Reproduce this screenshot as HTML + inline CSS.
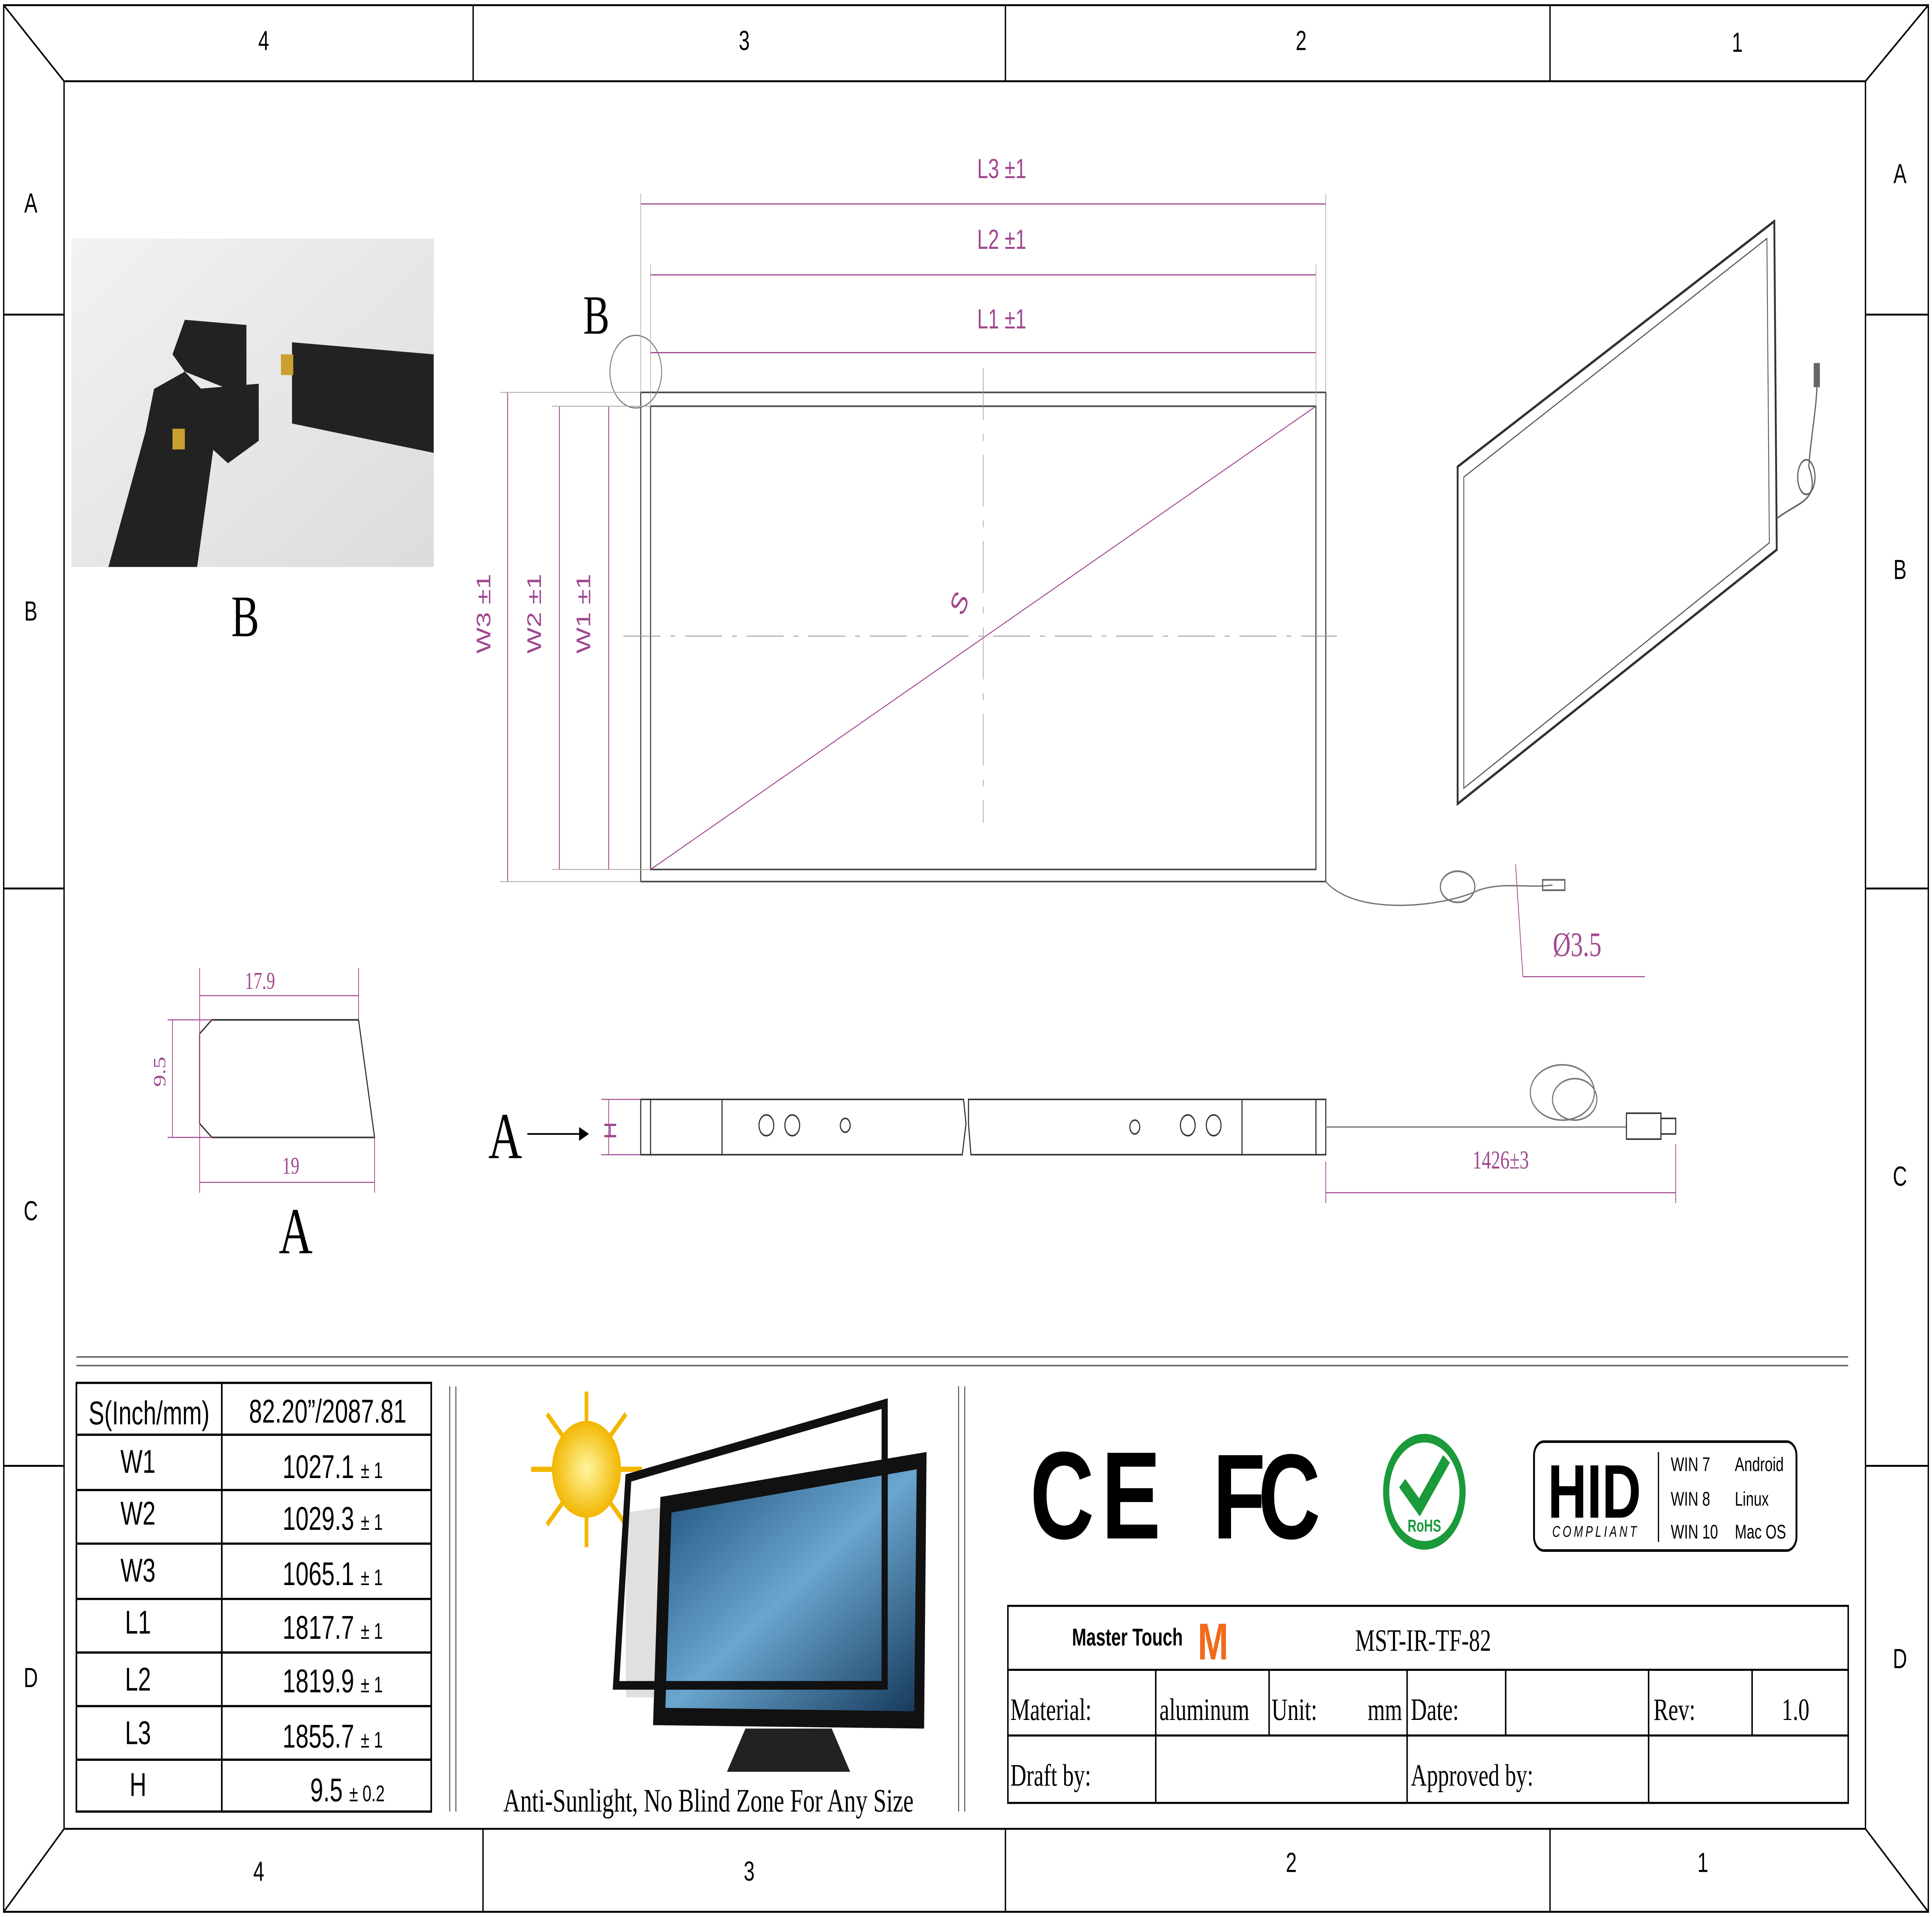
<!DOCTYPE html>
<html><head><meta charset="utf-8"><style>
html,body{margin:0;padding:0;background:#fff;width:100%;height:100%;overflow:hidden}
svg{display:block;width:100vw;height:100vh}
</style></head><body>
<svg xmlns="http://www.w3.org/2000/svg" viewBox="0 0 1568 1109" preserveAspectRatio="none" font-family="Liberation Sans, sans-serif">
<defs>
<linearGradient id="bg" x1="0" y1="0" x2="1" y2="1"><stop offset="0" stop-color="#f2f2f2"/><stop offset="1" stop-color="#dcdcdc"/></linearGradient>
<linearGradient id="scr" x1="0" y1="0" x2="1" y2="1"><stop offset="0" stop-color="#1d4f7a"/><stop offset="0.5" stop-color="#6aa6cf"/><stop offset="1" stop-color="#163a5c"/></linearGradient>
<radialGradient id="sun"><stop offset="0" stop-color="#fff7a0"/><stop offset="1" stop-color="#f2b600"/></radialGradient>
</defs>
<rect width="1568" height="1109" fill="#fff"/>
<g stroke="#000" stroke-width="1.1" fill="none">
<rect x="3" y="3" width="1562" height="1103"/>
<rect x="52" y="47" width="1462" height="1011"/>
<line x1="3" y1="3" x2="52" y2="47"/><line x1="1565" y1="3" x2="1514" y2="47"/>
<line x1="3" y1="1106" x2="52" y2="1058"/><line x1="1565" y1="1106" x2="1514" y2="1058"/>
<line x1="384" y1="3" x2="384" y2="47"/><line x1="816" y1="3" x2="816" y2="47"/><line x1="1258" y1="3" x2="1258" y2="47"/>
<line x1="392" y1="1058" x2="392" y2="1106"/><line x1="816" y1="1058" x2="816" y2="1106"/><line x1="1258" y1="1058" x2="1258" y2="1106"/>
<line x1="3" y1="182" x2="52" y2="182"/><line x1="3" y1="514" x2="52" y2="514"/><line x1="3" y1="848" x2="52" y2="848"/>
<line x1="1514" y1="182" x2="1565" y2="182"/><line x1="1514" y1="514" x2="1565" y2="514"/><line x1="1514" y1="848" x2="1565" y2="848"/>
</g>
<g font-size="16" text-anchor="middle">
<text x="214" y="29">4</text><text x="604" y="29">3</text><text x="1056" y="29">2</text><text x="1410" y="30">1</text>
<text x="210" y="1088">4</text><text x="608" y="1088">3</text><text x="1048" y="1083">2</text><text x="1382" y="1083">1</text>
<text x="25" y="123">A</text><text x="25" y="359">B</text><text x="25" y="706">C</text><text x="25" y="976">D</text>
<text x="1542" y="106">A</text><text x="1542" y="335">B</text><text x="1542" y="686">C</text><text x="1542" y="965">D</text>
</g>
<g stroke="#555" stroke-width="0.8"><line x1="62" y1="785" x2="1500" y2="785"/><line x1="62" y1="790" x2="1500" y2="790"/>
<line x1="365" y1="802" x2="365" y2="1048"/><line x1="370" y1="802" x2="370" y2="1048"/>
<line x1="778" y1="802" x2="778" y2="1048"/><line x1="783" y1="802" x2="783" y2="1048"/></g>
<rect x="58" y="138" width="294" height="190" fill="url(#bg)"/>
<g fill="#222"><polygon points="150,185 200,188 200,225 185,225 150,215 140,205"/><polygon points="237,198 352,205 352,262 237,245"/>
<polygon points="125,225 150,215 170,230 175,250 160,328 88,328 118,250"/><polygon points="160,225 210,222 210,255 185,268 165,255"/></g>
<rect x="228" y="205" width="10" height="12" fill="#c9a030"/><rect x="140" y="248" width="10" height="12" fill="#c9a030"/>
<text x="199" y="368" font-family="Liberation Serif, serif" font-size="34" text-anchor="middle">B</text>
<g stroke="#444" stroke-width="0.9" fill="none">
<rect x="520" y="227" width="556" height="283"/><rect x="528" y="235" width="540" height="268"/>
<line x1="528" y1="503" x2="1068" y2="235" stroke="#a04890" stroke-width="0.6"/>
<line x1="506" y1="368" x2="1085" y2="368" stroke="#999" stroke-dasharray="30,8,4,8" stroke-width="0.5"/>
<line x1="798" y1="213" x2="798" y2="476" stroke="#999" stroke-dasharray="30,8,4,8" stroke-width="0.5"/>
<circle cx="516" cy="215" r="21" stroke="#777" stroke-width="0.7"/>
</g>
<g stroke="#a04890" stroke-width="0.7" fill="#a04890">
<line x1="520" y1="118" x2="1076" y2="118"/><line x1="528" y1="159" x2="1068" y2="159"/><line x1="528" y1="204" x2="1068" y2="204"/>
<line x1="412" y1="227" x2="412" y2="510"/><line x1="454" y1="235" x2="454" y2="503"/><line x1="494" y1="235" x2="494" y2="503"/>
</g>
<g stroke="#aaa" stroke-width="0.5"><line x1="520" y1="112" x2="520" y2="227"/><line x1="1076" y1="112" x2="1076" y2="227"/>
<line x1="528" y1="153" x2="528" y2="235"/><line x1="1068" y1="153" x2="1068" y2="235"/>
<line x1="406" y1="227" x2="520" y2="227"/><line x1="406" y1="510" x2="520" y2="510"/><line x1="448" y1="235" x2="528" y2="235"/><line x1="448" y1="503" x2="528" y2="503"/></g>
<g fill="#a04890" font-size="16" text-anchor="middle">
<text x="813" y="103">L3 ±1</text><text x="813" y="144">L2 ±1</text><text x="813" y="190">L1 ±1</text>
<text transform="translate(398,355) rotate(-90)">W3 ±1</text><text transform="translate(439,355) rotate(-90)">W2 ±1</text><text transform="translate(479,355) rotate(-90)">W1 ±1</text>
<text transform="translate(784,352) rotate(-60)" font-size="18">S</text>
<text x="1280" y="553" font-family="Liberation Serif, serif" font-size="20">Ø3.5</text>
<text x="211" y="572" font-family="Liberation Serif, serif" font-size="14">17.9</text>
<text x="236" y="679" font-family="Liberation Serif, serif" font-size="14">19</text>
<text transform="translate(134,620) rotate(-90)" font-family="Liberation Serif, serif" font-size="14">9.5</text>
<text x="1218" y="676" font-family="Liberation Serif, serif" font-size="15">1426±3</text>
<text transform="translate(500,654) rotate(-90)" font-size="14">H</text>
</g>
<text x="484" y="193" font-family="Liberation Serif, serif" font-size="32" text-anchor="middle">B</text>
<path d="M1076 510 C1100 530 1170 525 1200 515 C1220 510 1240 514 1260 512" stroke="#777" fill="none" stroke-width="0.8"/>
<ellipse cx="1183" cy="513" rx="14" ry="9" stroke="#777" fill="none"/><rect x="1252" y="509" width="18" height="6" fill="none" stroke="#666"/>
<g stroke="#a04890" stroke-width="0.6"><line x1="1230" y1="500" x2="1236" y2="565"/><line x1="1236" y1="565" x2="1335" y2="565"/></g>
<polygon points="1183,270 1440,128 1442,318 1183,465" fill="none" stroke="#333" stroke-width="1.5"/>
<polygon points="1188,276 1434,138 1436,314 1188,456" fill="none" stroke="#555" stroke-width="0.7"/>
<path d="M1442 300 C1460 290 1478 290 1468 270 C1470 250 1475 235 1475 215" fill="none" stroke="#666"/>
<ellipse cx="1466" cy="276" rx="7" ry="10" fill="none" stroke="#666"/><rect x="1472" y="210" width="5" height="14" fill="#666"/>
<polygon points="172,590 291,590 304,658 172,658 162,650 162,598" fill="none" stroke="#333" stroke-width="0.9"/>
<g stroke="#a04890" stroke-width="0.6"><line x1="162" y1="576" x2="291" y2="576"/><line x1="162" y1="684" x2="304" y2="684"/><line x1="140" y1="590" x2="140" y2="658"/>
<line x1="162" y1="560" x2="162" y2="690"/><line x1="291" y1="560" x2="291" y2="590"/><line x1="304" y1="658" x2="304" y2="690"/><line x1="136" y1="590" x2="172" y2="590"/><line x1="136" y1="658" x2="172" y2="658"/></g>
<text x="240" y="725" font-family="Liberation Serif, serif" font-size="38" text-anchor="middle">A</text>
<text x="410" y="670" font-family="Liberation Serif, serif" font-size="38" text-anchor="middle">A</text>
<line x1="428" y1="656" x2="470" y2="656" stroke="#000"/><polygon points="470,652 478,656 470,660"/>
<g fill="none" stroke="#333" stroke-width="0.9">
<path d="M520 636 H782 L784 650 L781 668 H520 Z"/><path d="M786 636 H1076 V668 H788 L786 650 Z"/>
<line x1="528" y1="636" x2="528" y2="668"/><line x1="586" y1="636" x2="586" y2="668"/><line x1="1008" y1="636" x2="1008" y2="668"/><line x1="1068" y1="636" x2="1068" y2="668"/>
<circle cx="622" cy="651" r="6"/><circle cx="643" cy="651" r="6"/><circle cx="686" cy="651" r="4"/><circle cx="921" cy="652" r="4"/><circle cx="964" cy="651" r="6"/><circle cx="985" cy="651" r="6"/>
<path d="M1076 652 H1320" stroke="#888"/><ellipse cx="1268" cy="632" rx="26" ry="16" stroke="#777"/><ellipse cx="1278" cy="636" rx="18" ry="12" stroke="#777"/>
<rect x="1320" y="644" width="28" height="15"/><rect x="1348" y="647" width="12" height="9"/>
</g>
<g stroke="#a04890" stroke-width="0.6"><line x1="494" y1="636" x2="494" y2="668"/><line x1="488" y1="636" x2="520" y2="636"/><line x1="488" y1="668" x2="520" y2="668"/>
<line x1="1076" y1="690" x2="1360" y2="690"/><line x1="1076" y1="672" x2="1076" y2="696"/><line x1="1360" y1="662" x2="1360" y2="696"/></g>
<g stroke="#000" stroke-width="1.3" fill="none"><rect x="62" y="800" width="288" height="248"/>
<line x1="180" y1="800" x2="180" y2="1048"/>
<line x1="62" y1="830" x2="350" y2="830"/><line x1="62" y1="862" x2="350" y2="862"/><line x1="62" y1="893" x2="350" y2="893"/><line x1="62" y1="925" x2="350" y2="925"/><line x1="62" y1="956" x2="350" y2="956"/><line x1="62" y1="987" x2="350" y2="987"/><line x1="62" y1="1018" x2="350" y2="1018"/></g>
<g font-size="19" text-anchor="middle">
<text x="121" y="824">S(Inch/mm)</text><text x="266" y="823">82.20”/2087.81</text>
<text x="112" y="852">W1</text><text x="112" y="882">W2</text><text x="112" y="915">W3</text><text x="112" y="945">L1</text><text x="112" y="978">L2</text><text x="112" y="1009">L3</text><text x="112" y="1039">H</text>
<text x="270" y="855">1027.1 <tspan font-size="13">± 1</tspan></text><text x="270" y="885">1029.3 <tspan font-size="13">± 1</tspan></text><text x="270" y="917">1065.1 <tspan font-size="13">± 1</tspan></text>
<text x="270" y="948">1817.7 <tspan font-size="13">± 1</tspan></text><text x="270" y="979">1819.9 <tspan font-size="13">± 1</tspan></text><text x="270" y="1011">1855.7 <tspan font-size="13">± 1</tspan></text>
<text x="282" y="1042">9.5 <tspan font-size="13">± 0.2</tspan></text></g>
<g>
<g stroke="#f2b600" stroke-width="3">
<line x1="476" y1="805" x2="476" y2="895"/><line x1="431" y1="850" x2="521" y2="850"/><line x1="444" y1="818" x2="508" y2="882"/><line x1="508" y1="818" x2="444" y2="882"/></g>
<circle cx="476" cy="850" r="28" fill="url(#sun)"/>
<polygon points="508,982 748,982 748,850 508,875" fill="#d8d8d8" opacity="0.8"/>
<polygon points="530,998 750,1000 752,840 536,866" fill="#111"/>
<polygon points="540,988 742,990 744,850 545,875" fill="url(#scr)"/>
<polygon points="500,975 718,975 718,812 510,855" fill="none" stroke="#111" stroke-width="5"/>
<polygon points="605,1000 675,1000 690,1025 590,1025" fill="#222"/>
<text x="575" y="1048" font-family="Liberation Serif, serif" font-size="19" text-anchor="middle">Anti-Sunlight, No Blind Zone For Any Size</text>
</g>
<text x="892" y="890" font-size="72" font-weight="bold" text-anchor="middle" letter-spacing="6">CE</text>
<text x="1025" y="890" font-size="70" font-weight="bold" text-anchor="middle" letter-spacing="-6">FC</text>
<circle cx="1156" cy="863" r="31" fill="none" stroke="#1a9a3a" stroke-width="5"/>
<path d="M1138 858 L1152 872 L1174 844" stroke="#1a9a3a" stroke-width="7" fill="none"/>
<text x="1156" y="886" font-size="10" font-weight="bold" fill="#1a9a3a" text-anchor="middle">RoHS</text>
<rect x="1245" y="834" width="213" height="63" rx="8" fill="none" stroke="#000" stroke-width="1.5"/>
<line x1="1346" y1="840" x2="1346" y2="892" stroke="#000"/>
<text x="1294" y="878" font-size="44" font-weight="bold" text-anchor="middle">HID</text>
<text x="1295" y="889" font-size="9" font-style="italic" text-anchor="middle" letter-spacing="2">COMPLIANT</text>
<g font-size="11.5"><text x="1356" y="851">WIN 7</text><text x="1408" y="851">Android</text><text x="1356" y="871">WIN 8</text><text x="1408" y="871">Linux</text><text x="1356" y="890">WIN 10</text><text x="1408" y="890">Mac OS</text></g>
<g stroke="#000" stroke-width="1.2" fill="none"><rect x="818" y="929" width="682" height="114"/>
<line x1="818" y1="966" x2="1500" y2="966"/><line x1="818" y1="1004" x2="1500" y2="1004"/>
<line x1="938" y1="966" x2="938" y2="1043"/><line x1="1030" y1="966" x2="1030" y2="1004"/><line x1="1142" y1="966" x2="1142" y2="1043"/>
<line x1="1222" y1="966" x2="1222" y2="1004"/><line x1="1338" y1="966" x2="1338" y2="1043"/><line x1="1422" y1="966" x2="1422" y2="1004"/></g>
<text x="870" y="952" font-size="14" font-weight="bold">Master Touch</text>
<text x="972" y="960" font-size="30" font-weight="bold" fill="#f06a1a">M</text>
<g font-family="Liberation Serif, serif" font-size="18">
<text x="1155" y="955" text-anchor="middle">MST-IR-TF-82</text>
<text x="820" y="995">Material:</text><text x="941" y="995">aluminum</text><text x="1032" y="995">Unit:</text><text x="1110" y="995">mm</text>
<text x="1145" y="995">Date:</text><text x="1342" y="995">Rev:</text><text x="1446" y="995">1.0</text>
<text x="820" y="1033">Draft by:</text><text x="1145" y="1033">Approved by:</text></g>
</svg>
</body></html>
